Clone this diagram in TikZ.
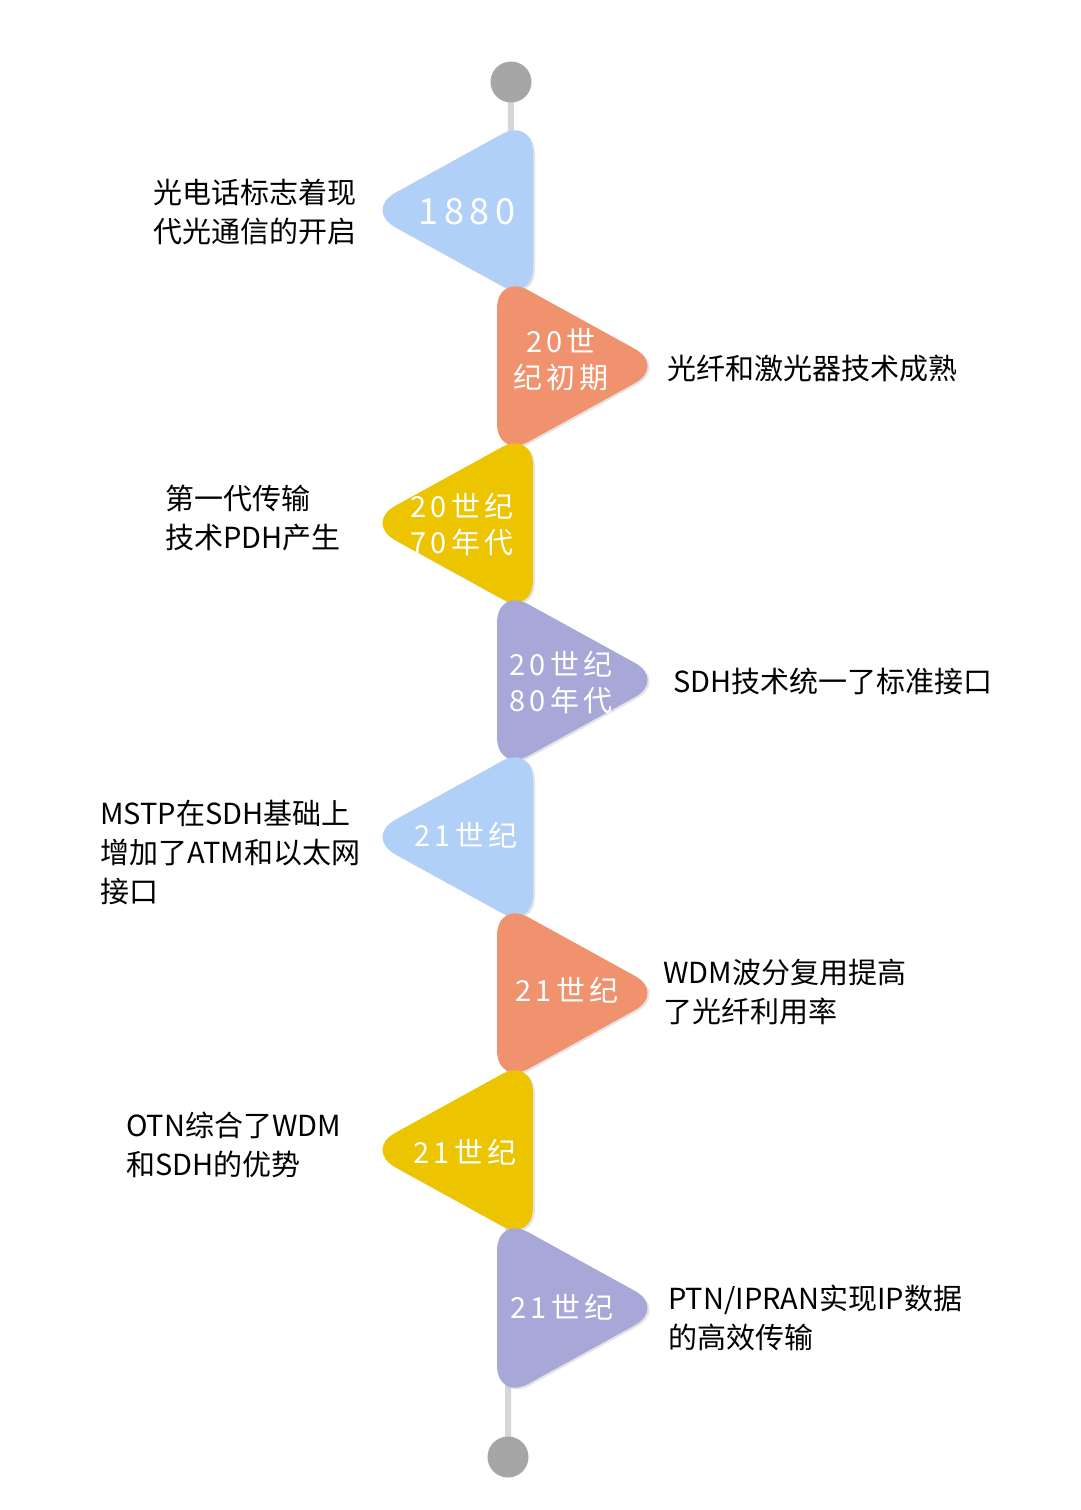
\documentclass[tikz,border=0pt]{standalone}
\usepackage{fontspec}
\setmainfont{Noto Sans CJK SC}
\newfontfamily\trifont[LetterSpace=15]{Noto Sans CJK SC}
\usetikzlibrary{shadows}
\definecolor{cblue}{RGB}{176,208,248}
\definecolor{corange}{RGB}{240,146,110}
\definecolor{cyellow}{RGB}{236,196,0}
\definecolor{cpurple}{RGB}{168,168,216}
\definecolor{cline}{RGB}{214,214,214}
\definecolor{cdot}{RGB}{166,166,166}
\tikzset{
  tri/.style={rounded corners=36pt, drop shadow={opacity=0.22, shadow xshift=2pt, shadow yshift=-1.5pt}},
  trilabel/.style={text=white, font=\trifont\fontsize{29}{36}\selectfont, align=center, inner sep=0pt},
  biglabel/.style={trilabel, font=\trifont\fontsize{36}{40}\selectfont},
  desc/.style={text=black, font=\fontsize{29}{39}\selectfont, align=left, anchor=west, inner sep=0pt},
  dot/.style={circle, fill=cdot, minimum size=41pt, inner sep=0pt},
}
\newcommand{\lefttri}[2]{% color, yc
  \fill[tri, #1] (533,#2-93) -- (364,#2) -- (533,#2+93) -- cycle;}
\newcommand{\righttri}[2]{%
  \fill[tri, #1] (497,#2-93) -- (666,#2) -- (497,#2+93) -- cycle;}
\begin{document}
\begin{tikzpicture}[x=1pt,y=-1pt]
\useasboundingbox (0,0) rectangle (1080,1510);
\fill[white] (0,0) rectangle (1080,1510);
\coordinate (ctop) at (511,82);
\coordinate (cbot) at (508,1457);
\draw[cline, line width=6pt] (ctop) -- (cbot);
\node[dot] (top) at (ctop) {};
\node[dot] (bot) at (cbot) {};
% triangles
\lefttri{cblue}{210}
\righttri{corange}{366}
\lefttri{cyellow}{523}
\righttri{cpurple}{680}
\lefttri{cblue}{837}
\righttri{corange}{993}
\lefttri{cyellow}{1150}
\righttri{cpurple}{1308}
% labels in triangles
\node[biglabel] (t1) at (467,212) {1880};
\node[trilabel] (t2) at (561,360) {20世\\纪初期};
\node[trilabel] (t3) at (462,525) {20世纪\\70年代};
\node[trilabel] (t4) at (561,683) {20世纪\\80年代};
\node[trilabel] (t5) at (466,835) {21世纪};
\node[trilabel] (t6) at (567,990) {21世纪};
\node[trilabel] (t7) at (465,1152) {21世纪};
\node[trilabel] (t8) at (562,1307) {21世纪};
% descriptions
\node[desc] (d1) at (153,212) {光电话标志着现\\代光通信的开启};
\node[desc] (d2) at (667,369) {光纤和激光器技术成熟};
\node[desc] (d3) at (165,518) {第一代传输\\技术PDH产生};
\node[desc] (d4) at (673,681) {SDH技术统一了标准接口};
\node[desc] (d5) at (100,852) {MSTP在SDH基础上\\增加了ATM和以太网\\接口};
\node[desc] (d6) at (663,992) {WDM波分复用提高\\了光纤利用率};
\node[desc] (d7) at (126,1145) {OTN综合了WDM\\和SDH的优势};
\node[desc] (d8) at (668,1318) {PTN/IPRAN实现IP数据\\的高效传输};
\end{tikzpicture}
\end{document}
